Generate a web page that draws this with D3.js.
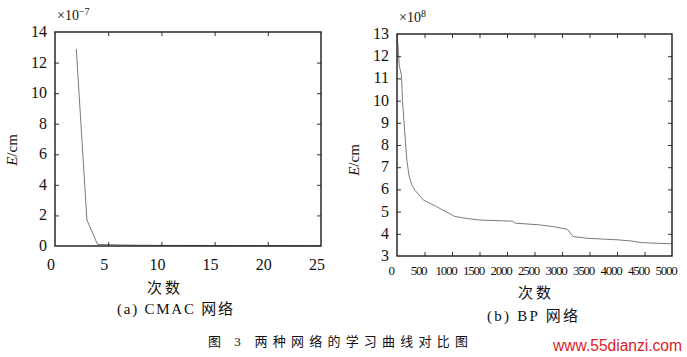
<!DOCTYPE html>
<html><head><meta charset="utf-8">
<script src="https://cdn.jsdelivr.net/npm/d3@7"></script>
<style>
body{margin:0;background:#fff;}
svg{display:block;}
svg text{fill:#111;}
</style></head>
<body><svg id="c" width="687" height="357"></svg>
<script>
// ---- data ----
const cmacIter = [2, 3, 4, 5, 6, 8, 10, 15, 20, 25];
const cmacErr  = [12.9, 1.7, 0.1, 0.09, 0.07, 0.05, 0.04, 0.03, 0.02, 0.01];
const cmacXTicks = [0, 5, 10, 15, 20, 25];
const cmacYTicks = [0, 2, 4, 6, 8, 10, 12, 14];

const bpIter = [0, 20, 40, 80, 100, 140, 180, 220, 270, 330, 480, 720, 1050, 1300, 1500, 2100, 2150, 2600, 2850, 3100, 3200, 3450, 4000, 4250, 4420, 4650, 5000];
const bpErr  = [13, 12.4, 11.6, 11.15, 10.0, 8.6, 7.3, 6.6, 6.2, 5.95, 5.52, 5.22, 4.78, 4.68, 4.62, 4.57, 4.48, 4.4, 4.32, 4.2, 3.88, 3.8, 3.73, 3.68, 3.61, 3.58, 3.55];
const bpXTicks = [0, 500, 1000, 1500, 2000, 2500, 3000, 3500, 4000, 4500, 5000];
const bpYTicks = [3, 4, 5, 6, 7, 8, 9, 10, 11, 12, 13];

const SERIF = "'Liberation Serif','DejaVu Serif','Times New Roman',serif";
const CJK = "'Noto Sans CJK SC','Noto Sans CJK JP',sans-serif";
const svg = d3.select("#c");

function mixed(sel, parts) {
  parts.forEach(p => sel.append("tspan").style("font-family", p[1] ? CJK : SERIF).text(p[0]));
}

function panel(o) {
  const x = d3.scaleLinear().domain(o.xd).range([o.l, o.r]);
  const y = d3.scaleLinear().domain(o.yd).range([o.b, o.t]);
  const g = svg.append("g");
  g.append("path")
    .datum(o.xs.map((v, i) => [v, o.ys[i]]))
    .attr("fill", "none").attr("stroke", "#7a7a7a").attr("stroke-width", 1)
    .attr("d", d3.line().x(d => x(d[0])).y(d => y(d[1])));
  const inner = (arr, d) => arr.filter(v => v !== d[0] && v !== d[1]);
  const ax = (gen, tr) => g.append("g").attr("transform", tr).call(gen)
    .call(s => s.select(".domain").remove())
    .call(s => s.selectAll("line").attr("stroke", "#333").attr("stroke-width", 1));
  ax(d3.axisBottom(x).tickValues(inner(o.xt, o.xd)).tickSize(-4).tickFormat(""), `translate(0,${o.b})`);
  ax(d3.axisTop(x).tickValues(inner(o.xt, o.xd)).tickSize(-4).tickFormat(""), `translate(0,${o.t})`);
  ax(d3.axisLeft(y).tickValues(inner(o.yt, o.yd)).tickSize(-4).tickFormat(""), `translate(${o.l},0)`);
  ax(d3.axisRight(y).tickValues(inner(o.yt, o.yd)).tickSize(-4).tickFormat(""), `translate(${o.r},0)`);
  g.append("rect").attr("x", o.l).attr("y", o.t).attr("width", o.r - o.l).attr("height", o.b - o.t)
    .attr("fill", "none").attr("stroke", "#1a1a1a").attr("stroke-width", 1.4);
  g.selectAll(".xl").data(o.xt).enter().append("text")
    .attr("x", d => x(d) + o.xdx).attr("y", o.b + o.xly)
    .attr("text-anchor", "middle").attr("font-size", o.xfs)
    .attr("letter-spacing", o.xls).style("font-family", SERIF)
    .text(d => d);
  g.selectAll(".yl").data(o.yt).enter().append("text")
    .attr("x", o.l - 8).attr("y", d => y(d) + 5)
    .attr("text-anchor", "end").attr("font-size", 16).style("font-family", SERIF)
    .text(d => d);
  const m = g.append("text").attr("x", o.l + 2).attr("y", o.t - 12).attr("font-size", 14).style("font-family", SERIF);
  m.append("tspan").text("×10");
  m.append("tspan").attr("dy", -5).attr("font-size", 10).text(o.exp);
  const yl = g.append("text").attr("transform", `translate(${o.ylx},${o.yly}) rotate(-90)`)
    .attr("text-anchor", "middle").attr("font-size", 15).style("font-family", SERIF);
  yl.append("tspan").attr("font-style", "italic").text("E");
  yl.append("tspan").text("/cm");
  g.append("text").attr("x", o.xlx).attr("y", o.xlyy).style("font-family", CJK)
    .attr("text-anchor", "middle").attr("font-size", 15).attr("letter-spacing", 3).text("次数");
  const sc = g.append("text").attr("x", o.scx).attr("y", o.scy)
    .attr("font-size", 15).attr("textLength", o.scw).attr("lengthAdjust", "spacing");
  mixed(sc, o.sub);
}

panel({xd:[0,25], yd:[0,14], l:55, r:321, t:32, b:246, xs:cmacIter, ys:cmacErr,
  xt:cmacXTicks, yt:cmacYTicks, xdx:-4, xly:24, xfs:16, xls:0, exp:"−7",
  ylx:17, yly:150, xlx:165, xlyy:293, scx:117, scy:314, scw:116,
  sub:[["(a)  CMAC ", false], ["网络", true]]});
panel({xd:[0,5000], yd:[3,13], l:397, r:672, t:34, b:256, xs:bpIter, ys:bpErr,
  xt:bpXTicks, yt:bpYTicks, xdx:-6, xly:19, xfs:13, xls:-1.3, exp:"8",
  ylx:359, yly:160, xlx:536, xlyy:298, scx:487, scy:321, scw:91,
  sub:[["(b)  BP ", false], ["网络", true]]});

const cap = svg.append("text").attr("x", 208).attr("y", 346)
  .attr("font-size", 13).attr("textLength", 260).attr("lengthAdjust", "spacing");
mixed(cap, [["图 ", true], ["3  ", false], ["两种网络的学习曲线对比图", true]]);

svg.append("text").attr("x", 553).attr("y", 351)
  .style("font-family", "'Liberation Sans','DejaVu Sans',Arial,sans-serif").style("fill", "#d8222a")
  .attr("font-size", 16).attr("textLength", 129).attr("lengthAdjust", "spacingAndGlyphs")
  .text("www.55dianzi.com");
</script></body></html>
